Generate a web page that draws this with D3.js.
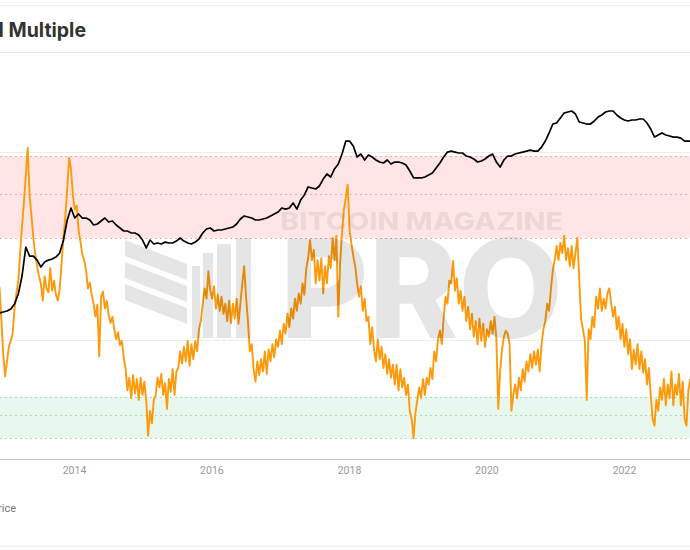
<!DOCTYPE html>
<html><head><meta charset="utf-8">
<script src="https://cdn.jsdelivr.net/npm/d3@7"></script>
<style>html,body{margin:0;padding:0;background:#fff;} svg{display:block;}</style>
</head><body>
<svg id="chart" width="690" height="550"></svg>
<script>
// ---------- data ----------
const titleText = "Puell Multiple";
const legendLabel = "BTC Price";
const tickYears = [2014, 2016, 2018, 2020, 2022];
const seriesStart = "2012-12-01";
const puellStepDays = 10;
const priceStepDays = 20;
const puellGrid = [1, 10];
const redBand = [3.5, 6, 9.5];
const greenBand = [0.3, 0.4, 0.5];

const puellValues = [
1.92,1.30,0.84,0.64,0.77, 0.92,0.99,1.08,1.47,1.77, 2.07,2.90,4.05,5.38,7.53, 10.5,5.88,4.58,3.49,2.86,
2.47,2.18,2.00,1.62,2.18, 1.88,1.79,2.41,1.83,2.07, 1.74,1.62,1.88,2.56,3.49, 4.58,6.33,9.3,8.10,5.88,
4.94,5.19,3.85,3.36,2.86, 2.66,2.35,1.88,2.02,1.74, 1.56,1.33,1.54,0.82,1.70, 1.81,1.47,1.62,1.36,1.23,
1.33,1.14,1.01,1.10,0.94, 0.99,0.81,0.70,0.54,0.63, 0.49,0.65,0.52,0.62,0.48, 0.63,0.51,0.60,0.47,0.31,
0.42,0.36,0.48,0.51,0.63, 0.56,0.66,0.51,0.59,0.43, 0.62,0.53,0.70,0.51,0.68, 0.71,0.87,0.75,0.92,0.77,
0.99,0.73,0.95,0.79,0.99, 0.87,1.14,1.26,1.56,1.88, 1.66,2.32,1.83,1.66,1.93, 1.47,1.74,1.43,1.70,1.38,
1.56,1.26,1.62,1.23,1.56, 1.30,1.66,1.22,1.56,2.00, 2.47,1.70,1.26,0.87,0.95, 0.70,0.60,0.77,0.65,0.79,
0.68,0.87,0.66,0.89,0.77, 0.95,0.81,1.01,0.92,1.12, 0.95,1.22,1.08,1.38,1.17, 1.47,1.30,1.66,1.43,1.77,
1.56,2.00,1.74,2.41,2.72, 3.40,2.66,3.01,2.00,2.66, 2.07,2.72,1.77,2.47,2.00, 2.79,2.41,3.49,2.66,3.58,
1.33,2.56,3.71,4.94,5.73, 6.7,3.85,3.24,2.79,2.47, 2.00,1.70,1.93,1.43,1.66, 1.26,1.33,0.95,1.17,0.89,
0.77,1.01,0.79,0.92,0.71, 0.84,0.66,0.79,0.63,0.74, 0.58,0.74,0.54,0.70,0.56, 0.63,0.51,0.58,0.42,0.38,
0.30,0.41,0.48,0.56,0.49, 0.62,0.51,0.63,0.58,0.71, 0.62,0.87,0.77,1.01,1.12, 0.95,1.33,1.70,1.56,2.07,
2.00,2.63,1.83,2.13,1.56, 1.83,1.43,1.70,1.26,1.50, 1.14,1.38,1.04,1.26,0.95, 1.30,0.99,1.22,0.92,1.14,
1.04,1.26,1.08,1.33,1.01, 0.43,0.68,0.89,1.04,1.12, 1.08,0.95,0.42,0.51,0.58, 0.49,0.63,0.54,0.70,0.60,
0.77,0.68,0.84,0.71,0.87, 0.74,0.89,0.68,0.95,1.14, 1.26,1.56,1.43,1.88,2.35, 2.66,3.16,2.66,3.28,2.90,
3.58,2.66,3.08,2.47,3.16, 2.41,2.90,3.49,2.13,1.30, 1.14,0.99,0.48,1.14,1.01, 1.33,1.17,1.70,1.47,1.88,
1.43,1.66,1.47,1.77,1.88, 1.56,1.33,1.50,1.14,1.33, 1.01,1.22,0.92,1.14,0.84, 1.01,0.70,0.89,0.74,0.95,
0.70,0.87,0.67,0.79,0.58, 0.71,0.51,0.38,0.35,0.48, 0.42,0.56,0.48,0.62,0.45, 0.58,0.49,0.68,0.45,0.58,
0.51,0.66,0.45,0.60,0.38, 0.35,0.54,0.62
];

const priceValues = [
17.2,17.9,18.6,20.2,24.7,36.7,75.6,241,168,168,
143,108,132,143,149,161,190,319,711,1150,
770,905,770,770,711,582,606,683,770,656,
683,582,517,458,458,423,423,390,319,232,
319,272,283,272,294,283,283,306,346,306,
283,272,294,332,423,497,517,458,477,477,
497,517,537,606,740,835,802,770,711,711,
740,770,835,905,978,1150,1100,1150,1410,1100,
1580,1940,2670,2560,2460,2780,3670,4490,3980,5490,
6690,9990,16800,16800,13700,8860,9990,7860,9600,8860,
7860,7250,6970,7860,6690,7250,7250,6970,6430,5060,
3830,3830,3830,3980,4310,4670,5710,6970,8860,10800,
11200,10800,10400,10400,9220,8860,8180,7250,7550,8180,
9220,9990,7250,5930,7860,9220,9220,9990,10400,10800,
11200,11700,11200,11200,13200,16800,23200,33200,34600,42300,
51600,53700,55900,49600,36000,34600,33200,33200,37500,43900,
47600,53700,55900,55900,47600,42300,39000,37500,39000,39000,
40600,40600,34600,27200,19700,21400,23200,21400,20600,19700,
19700,18900,16800,16800,16800
];

// ---------- chart ----------
const W = 690, H = 550;
const plotTop = 53, plotBottom = 459;
const svg = d3.select("#chart");
const start = new Date(seriesStart + "T00:00:00Z");
const puell = puellValues.map((v, i) => ({date: d3.utcDay.offset(start, i * puellStepDays), v}));
const price = priceValues.map((v, i) => ({date: d3.utcDay.offset(start, i * priceStepDays), v}));

const x = d3.scaleUtc().domain([Date.UTC(2014,0,1), Date.UTC(2022,0,1)]).range([74, 624]);
const yP = d3.scaleLog().domain([1, 10]).range([340, 152]);
const yPrice = d3.scaleLog().domain([1, 100000]).range([384, 96.5]);

svg.append("rect").attr("width", W).attr("height", H).attr("fill", "#fff");

// frame lines
[[5.5, "#ededed"], [52.5, "#e4e4e4"], [546.5, "#ededed"]].forEach(([yy, c]) =>
  svg.append("line").attr("x1", 0).attr("x2", W).attr("y1", yy).attr("y2", yy).attr("stroke", c));

svg.append("text").attr("x", 86).attr("y", 37).attr("text-anchor", "end")
  .attr("font-family", "Inter, 'Open Sans', sans-serif").attr("font-weight", 700)
  .attr("font-size", 19.5).attr("fill", "#333").text(titleText);

const defs = svg.append("defs");
defs.append("clipPath").attr("id", "plotclip").append("rect")
  .attr("x", 0).attr("y", plotTop).attr("width", W).attr("height", plotBottom - plotTop);

const plot = svg.append("g").attr("clip-path", "url(#plotclip)");

// bands
plot.append("rect").attr("x", 0).attr("width", W)
  .attr("y", yP(d3.max(redBand))).attr("height", yP(d3.min(redBand)) - yP(d3.max(redBand)))
  .attr("fill", "#ffe5e5");
plot.append("rect").attr("x", 0).attr("width", W)
  .attr("y", yP(d3.max(greenBand))).attr("height", yP(d3.min(greenBand)) - yP(d3.max(greenBand)))
  .attr("fill", "#e8f8ef");

// gridlines
plot.selectAll(".grid").data(puellGrid).join("line")
  .attr("x1", 0).attr("x2", W)
  .attr("y1", d => Math.round(yP(d)) + 0.5).attr("y2", d => Math.round(yP(d)) + 0.5)
  .attr("stroke", "#ececec");

plot.selectAll(".rl").data(redBand).join("line")
  .attr("x1", 0).attr("x2", W)
  .attr("y1", d => Math.round(yP(d)) + 0.5).attr("y2", d => Math.round(yP(d)) + 0.5)
  .attr("stroke", "#f2a9a9").attr("stroke-dasharray", "2,3");
plot.selectAll(".gl").data(greenBand).join("line")
  .attr("x1", 0).attr("x2", W)
  .attr("y1", d => Math.round(yP(d)) + 0.5).attr("y2", d => Math.round(yP(d)) + 0.5)
  .attr("stroke", "#a9dcb3").attr("stroke-dasharray", "2,3");

// watermark
const wm = svg.append("g").attr("fill", "#000").attr("fill-opacity", 0.1);
[240, 262, 284].forEach(y0 => {
  wm.append("polygon").attr("points",
    `125,${y0} 187,${y0 + 24} 187,${y0 + 40} 125,${y0 + 16}`);
});
[[192, 266, 8], [203, 253, 10], [217, 244, 14], [236, 238, 15]].forEach(([bx, by, bw]) =>
  wm.append("rect").attr("x", bx).attr("y", by).attr("width", bw).attr("height", 338 - by));
wm.append("text").attr("x", 280).attr("y", 338)
  .attr("font-family", "Inter, sans-serif").attr("font-weight", 800).attr("font-size", 137)
  .attr("textLength", 283).attr("lengthAdjust", "spacingAndGlyphs").text("PRO");
wm.append("text").attr("x", 555).attr("y", 247)
  .attr("font-family", "Inter, sans-serif").attr("font-size", 9).text("®");
svg.append("text").attr("x", 280).attr("y", 230)
  .attr("font-family", "Inter, sans-serif").attr("font-weight", 800).attr("font-size", 24)
  .attr("fill", "#000").attr("fill-opacity", 0.07)
  .attr("textLength", 283).attr("lengthAdjust", "spacingAndGlyphs").text("BITCOIN MAGAZINE");

// series
plot.append("path").datum(puell)
  .attr("fill", "none").attr("stroke", "#fd9a0c").attr("stroke-width", 1.9)
  .attr("stroke-linejoin", "round")
  .attr("d", d3.line().x(d => x(d.date)).y(d => yP(d.v)));
plot.append("path").datum(price)
  .attr("fill", "none").attr("stroke", "#000").attr("stroke-width", 1.7)
  .attr("stroke-linejoin", "round")
  .attr("d", d3.line().x(d => x(d.date)).y(d => yPrice(d.v)));

// x axis
svg.append("line").attr("x1", 0).attr("x2", W).attr("y1", plotBottom + 0.5).attr("y2", plotBottom + 0.5)
  .attr("stroke", "#c6c6c6").attr("stroke-width", 1.2);
const ax = svg.append("g").attr("transform", `translate(0,${plotBottom})`)
  .call(d3.axisBottom(x).tickValues(tickYears.map(yr => new Date(Date.UTC(yr, 0, 1))))
    .tickFormat(d3.utcFormat("%Y")).tickSize(0).tickPadding(8));
ax.select(".domain").remove();
ax.selectAll("text").attr("fill", "#999").attr("font-size", 10.5)
  .attr("font-family", "Roboto, 'Open Sans', sans-serif");

// legend (cut off at left edge, as in the reference crop)
svg.append("text").attr("x", 16).attr("y", 512).attr("text-anchor", "end")
  .attr("font-family", "Roboto, 'Open Sans', sans-serif").attr("font-size", 11)
  .attr("fill", "#777").text(legendLabel);
</script>
</body></html>
